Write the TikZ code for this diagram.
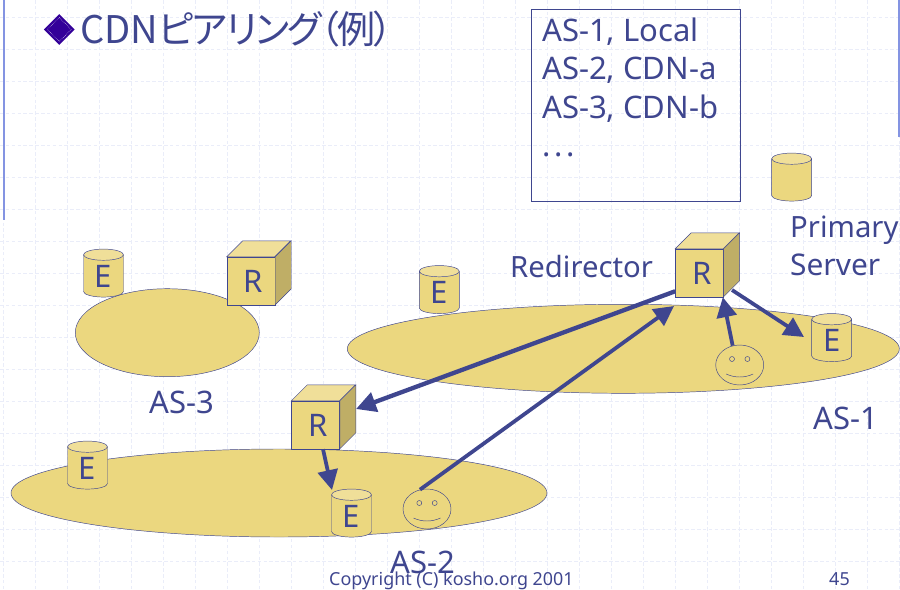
\documentclass[tikz,border=0pt]{standalone}
\usepackage{fontspec}
\setmainfont{Noto Sans}
\newfontfamily\jpfont[RawFeature=+palt]{Noto Sans CJK JP}
\newfontfamily\jpkana[RawFeature=+palt,LetterSpace=-4.3]{Noto Sans CJK JP}
\usetikzlibrary{arrows.meta,shapes.geometric}
\definecolor{inkblue}{HTML}{3F468F}
\definecolor{sandfill}{HTML}{EBD77F}
\definecolor{sandtop}{HTML}{F0DF99}
\definecolor{sandside}{HTML}{BFAE66}
\definecolor{gridblue}{HTML}{EAEDF9}
\definecolor{railblue}{HTML}{8494E2}
\definecolor{bulletblue}{HTML}{330099}
\begin{document}
\begin{tikzpicture}[x=0.03cm,y=-0.03cm,
		lbl/.style={inkblue,inner sep=0pt,anchor=base west,font=\fontsize{26.5}{32.3}\selectfont},
		foot/.style={inkblue,inner sep=0pt,anchor=base west,font=\fontsize{15.3}{18}\selectfont},
		blob/.style={ellipse,draw=inkblue,fill=sandfill,inner sep=0pt},
		cyl/.style={cylinder,shape border rotate=90,aspect=0.65,draw=inkblue,cylinder uses custom fill,cylinder end fill=sandtop,cylinder body fill=sandfill,minimum width=1.2cm,minimum height=1.44cm,inner sep=0pt,text=inkblue,font=\fontsize{26.5}{30}\selectfont},
		cubefront/.style={draw=inkblue,fill=sandfill,minimum size=1.44cm,inner sep=0pt,text=inkblue,font=\fontsize{26.5}{30}\selectfont},
		face/.style={ellipse,draw=inkblue,minimum width=1.44cm,minimum height=1.2cm,inner sep=0pt},
		link/.style={draw=inkblue,fill=inkblue,line width=3.2pt,-{Triangle[length=17pt,width=17pt]}}]
		\useasboundingbox (0,0) rectangle (900,589);
		%
		\foreach \gx in {0,...,28} {
			\draw[gridblue,densely dashed] ({3.5+32*\gx},0) -- ({3.5+32*\gx},589);
		}
		\foreach \gy in {0,...,17} {
			\draw[gridblue,densely dashed] (0,{17+32*\gy}) -- (900,{17+32*\gy});
		}
		\draw[railblue,line width=1pt] (4,0) -- (4,220);
		\draw[railblue,line width=1pt] (899,0) -- (899,137);
		%
		\node[diamond,fill=bulletblue,minimum size=0.93cm,inner sep=0pt] (bullet) at (59.3,29.5) {};
		\node[diamond,draw=white,densely dotted,minimum size=0.72cm,inner sep=0pt] (bulletring) at (59.3,29.5) {};
		\node[inkblue,inner sep=0pt,anchor=base west,font=\fontsize{32.5}{38}\selectfont] (title) at (80,43) {\jpfont CDN\jpkana ピアリング（例）};
		%
		\node[draw=inkblue,minimum width=6.26cm,minimum height=5.76cm,inner sep=0pt] (tblbox) at (635.7,105) {};
		\node[lbl] (tblA) at (542,41) {AS-1, Local};
		\node[lbl] (tblB) at (542,79) {AS-2, CDN-a};
		\node[lbl] (tblC) at (542,118) {AS-3, CDN-b};
		\node[lbl] (tblD) at (542,156) {\addfontfeature{LetterSpace=12}...};
		%
		\node[blob,minimum width=5.52cm,minimum height=2.64cm] (asThree) at (167.3,332.7) {};
		\node[blob,minimum width=16.56cm,minimum height=2.67cm] (asOne) at (623.3,348.8) {};
		\node[blob,minimum width=16.08cm,minimum height=2.64cm] (asTwo) at (279,493) {};
		%
		\node[lbl] (lblThree) at (149,413) {AS-3};
		\node[lbl] (lblOne) at (813,429) {AS-1};
		\node[lbl] (lblTwo) at (390,573) {AS-2};
		\node[lbl,font=\fontsize{25}{30}\selectfont] (lblRedir) at (510,277) {Redirector};
		\node[lbl,font=\fontsize{25}{30}\selectfont] (lblPrimary) at (790,237) {Primary};
		\node[lbl,font=\fontsize{25.5}{30}\selectfont] (lblServer) at (790,275) {Server};
		%
		\node[cyl] (eThree) at (103.5,276) {E};
		\node[cyl] (eMid) at (439.3,292.5) {E};
		\node[cyl] (primary) at (791.7,180) {\phantom{E}};
		\node[cyl] (eTwoL) at (87.5,468) {E};
		\node[cyl] (eTwoR) at (351.5,516) {E};
		\node[cyl] (eOne) at (831.7,340.5) {E};
		%
		\foreach \fname/\fx/\fy in {faceA/739.7/365,faceB/427/509} {
			\node[face] (\fname) at (\fx,\fy) {};
			\draw[inkblue] (\fx-7.7,\fy-6) circle[radius=2.5];
			\draw[inkblue] (\fx+7.7,\fy-6) circle[radius=2.5];
			\draw[inkblue] (\fx-13.5,\fy+9) .. controls (\fx-5,\fy+13) and (\fx+5,\fy+13) .. (\fx+13.5,\fy+9);
		}
		%
		\foreach \rname/\rx/\ry in {rA/699.4/273,rB/251/281,rC/315.6/425} {
			\node[cubefront] (\rname) at (\rx,\ry) {\hspace*{4pt}R};
			\draw[inkblue,fill=sandtop] (\rname.north west) -- ++(16,-16) -- ++(48,0) -- ++(-16,16) -- cycle;
			\draw[inkblue,fill=sandside] (\rname.north east) -- ++(16,-16) -- ++(0,48) -- ++(-16,16) -- cycle;
		}
		%
		\coordinate (rAfoot) at (732,290);
		\coordinate (rAunder) at (674,306);
		\coordinate (rCside) at (356,409);
		\coordinate (eOnetip) at (804,337);
		\coordinate (eTwotip) at (332,490);
		%
		\path[link,line width=3.7pt] (rA.217) -- (rCside);
		\path[link] (faceB.110) -- (rAunder);
		\path[link] (faceA.110) -- (rA.-46);
		\path[link] (rAfoot) -- (eOnetip);
		\path[link] (rC.-73) -- (eTwotip);
		%
		\node[foot] (copyright) at (329,585) {Copyright (C) kosho.org 2001};
		\node[foot] (pagenum) at (829,585) {45};
	\end{tikzpicture}
\end{document}
